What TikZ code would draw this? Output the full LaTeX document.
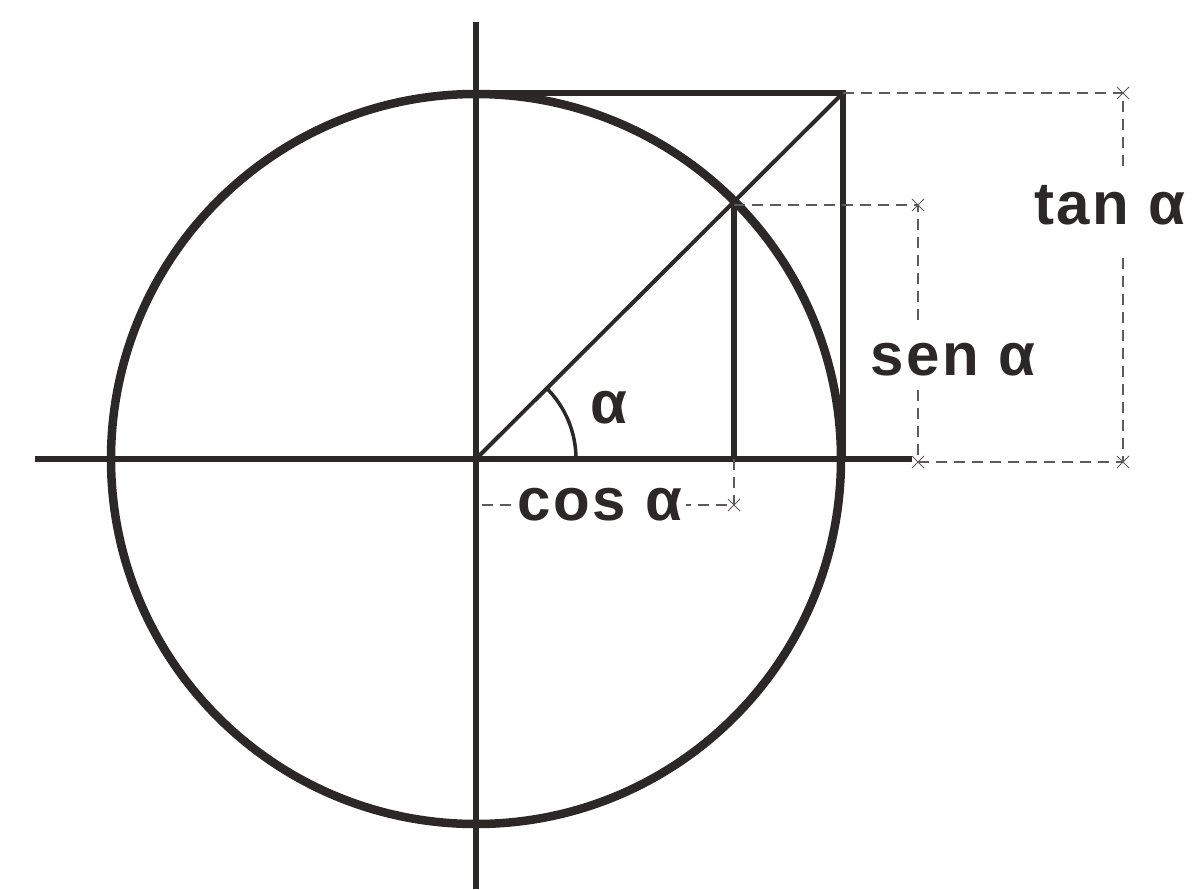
\documentclass[tikz,border=0pt]{standalone}
\usepackage{fontspec}
\setmainfont{Liberation Sans}
\newfontfamily\lblfont[LetterSpace=4]{Liberation Sans}
\usetikzlibrary{shapes.misc}
\definecolor{ink}{RGB}{45,40,40}
\definecolor{dsh}{RGB}{95,90,90}
\begin{document}
\begin{tikzpicture}[x=1pt,y=-1pt,
  circ/.style={draw=ink,line width=8.5pt},
  axis/.style={draw=ink,line width=5.5pt},
  seg/.style={draw=ink,line width=5.5pt},
  diag/.style={draw=ink,line width=4pt},
  arcline/.style={draw=ink,line width=3.5pt},
  dline/.style={draw=dsh,line width=1.8pt,dash pattern=on 11pt off 7pt},
  xmk/.style={cross out,draw=dsh,line width=1pt,minimum size=11pt,inner sep=0pt},
  lbl/.style={text=ink,font=\lblfont\bfseries\fontsize{60}{66}\selectfont,inner sep=2pt}
]
\useasboundingbox (0,0) rectangle (1202,889);
\fill[white] (0,0) rectangle (1202,889);
% key points
\coordinate (O) at (476,459);
\coordinate (P) at (734,201);
\coordinate (T) at (843,93);
\coordinate (Ttop) at (476,93);
\coordinate (Tfoot) at (843,459);
\coordinate (Pfoot) at (734,459);
\coordinate (AxT) at (476,22);
\coordinate (AxB) at (476,889);
\coordinate (AxL) at (35,459);
\coordinate (AxR) at (912,459);
% dashed guide coordinates
\coordinate (tanTop) at (1123,93);
\coordinate (tanBot) at (1123,462);
\coordinate (tanGapA) at (1123,167);
\coordinate (tanGapB) at (1123,258);
\coordinate (senTop) at (918,205);
\coordinate (senStart) at (734,205);
\coordinate (senBot) at (918,462);
\coordinate (senGapA) at (918,323);
\coordinate (senGapB) at (918,390);
\coordinate (cosStart) at (482,505);
\coordinate (cosEnd) at (734,505);
\coordinate (cosDrop) at (734,512);

% circle and axes
\draw[circ] (O) circle[radius=365];
\draw[axis] (AxL) -- (AxR);
\draw[axis] (AxT) -- (AxB);
% construction lines
\draw[seg] (Ttop) -- (T) -- (Tfoot);
\draw[diag] (O) -- (T);
\draw[seg] (Pfoot) -- (P);
\draw[arcline] (O) ++(100,0) arc[start angle=0,end angle=-45,radius=100];

% dashed dimension lines
\draw[dline] (T) -- (tanTop) -- (tanGapA);
\draw[dline] (tanGapB) -- (tanBot);
\draw[dline] (senStart) -- (senTop) -- (senGapA);
\draw[dline] (senGapB) -- (senBot) -- (tanBot);
\draw[dline] (cosStart) -- (cosEnd);
\draw[dline] (Pfoot) -- (cosDrop);

% cross markers
\node[xmk] (m1) at (tanTop) {};
\node[xmk] (m2) at (tanBot) {};
\node[xmk] (m3) at (senTop) {};
\node[xmk] (m4) at (senBot) {};
\node[xmk] (m5) at (cosEnd) {};

% labels
\node[lbl] (tanlbl) at (1110,205) {tan α};
\node[lbl] (senlbl) at (953,360) {sen α};
\node[lbl,fill=white,inner sep=4pt] (coslbl) at (600,505) {cos α};
\node[lbl] (alpha) at (609,408) {α};
\end{tikzpicture}
\end{document}
